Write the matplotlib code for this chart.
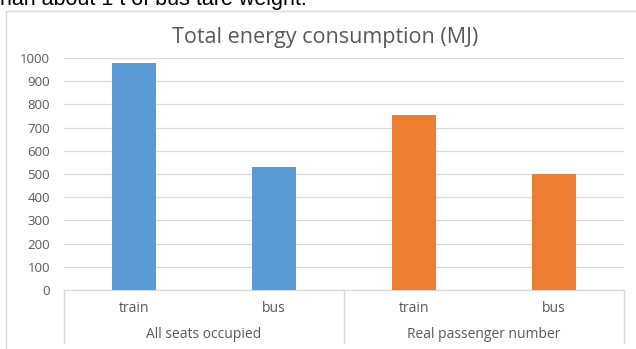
import matplotlib
matplotlib.use("Agg")
import matplotlib.pyplot as plt
from matplotlib.patches import Rectangle
from matplotlib.lines import Line2D
import matplotlib.transforms as mtransforms

plt.rcParams['font.family'] = ['Open Sans', 'DejaVu Sans']

# Energy use per scenario
groups = ["All seats occupied", "Real passenger number"]
modes = ["train", "bus"]
all_seats = [980, 530]
real_passengers = [755, 500]
colors = ["#5b9bd5", "#ed7d31"]
yticks = list(range(0, 1001, 100))

W, H = 636, 349
fig = plt.figure(figsize=(W / 100, H / 100), dpi=100)

# outer chart frame
fig.patches.append(Rectangle((6 / W, -0.05), 1.0, (H - 11) / H + 0.05,
                             transform=fig.transFigure, fill=False,
                             edgecolor="#d9d9d9", linewidth=1.0))

# cut-off sentence above the chart
fig.text(0, 1 - 5 / H, "han about 1 t of bus tare weight.", fontsize=15.5,
         family="Liberation Sans", color="black", ha="left", va="baseline")

ax = fig.add_axes([64 / W, 1 - 290 / H, 560 / W, 232 / H])
ax.set_xlim(0, 4)
ax.set_ylim(0, 1000)

x = [0.5, 1.5, 2.5, 3.5]
bw = 44 / 140
ax.bar(x[:2], all_seats, width=bw, color=colors[0], zorder=3)
ax.bar(x[2:], real_passengers, width=bw, color=colors[1], zorder=3)

ax.set_yticks(yticks)
ax.yaxis.grid(True, color="#d9d9d9", linewidth=0.9)
ax.set_axisbelow(True)
for s in ax.spines.values():
    s.set_visible(False)
ax.tick_params(axis="y", length=0, pad=10, labelsize=9.5, labelcolor="#595959")
ax.set_xticks([])

# two-level category axis
trans = mtransforms.blended_transform_factory(ax.transData, ax.transAxes)
px = 1 / 232
ax.add_line(Line2D([0, 4], [0, 0], transform=trans, color="#d9d9d9",
                   linewidth=1.0, clip_on=False))
for xs in [0, 2, 4]:
    ax.add_line(Line2D([xs, xs], [0, -53 * px], transform=trans,
                       color="#d9d9d9", linewidth=1.0, clip_on=False))
for xi, m in zip(x, modes * 2):
    ax.text(xi, -18 * px, m, transform=trans, ha="center", va="center",
            fontsize=10, color="#595959")
for gi, g in enumerate(groups):
    ax.text(2 * gi + 1, -45 * px, g, transform=trans, ha="center",
            va="center", fontsize=10, color="#595959")

fig.text(325 / W, 1 - 38 / H, "Total energy consumption (MJ)", ha="center",
         va="center", fontsize=15.5, color="#595959")

fig.savefig("out.png", dpi=100)
